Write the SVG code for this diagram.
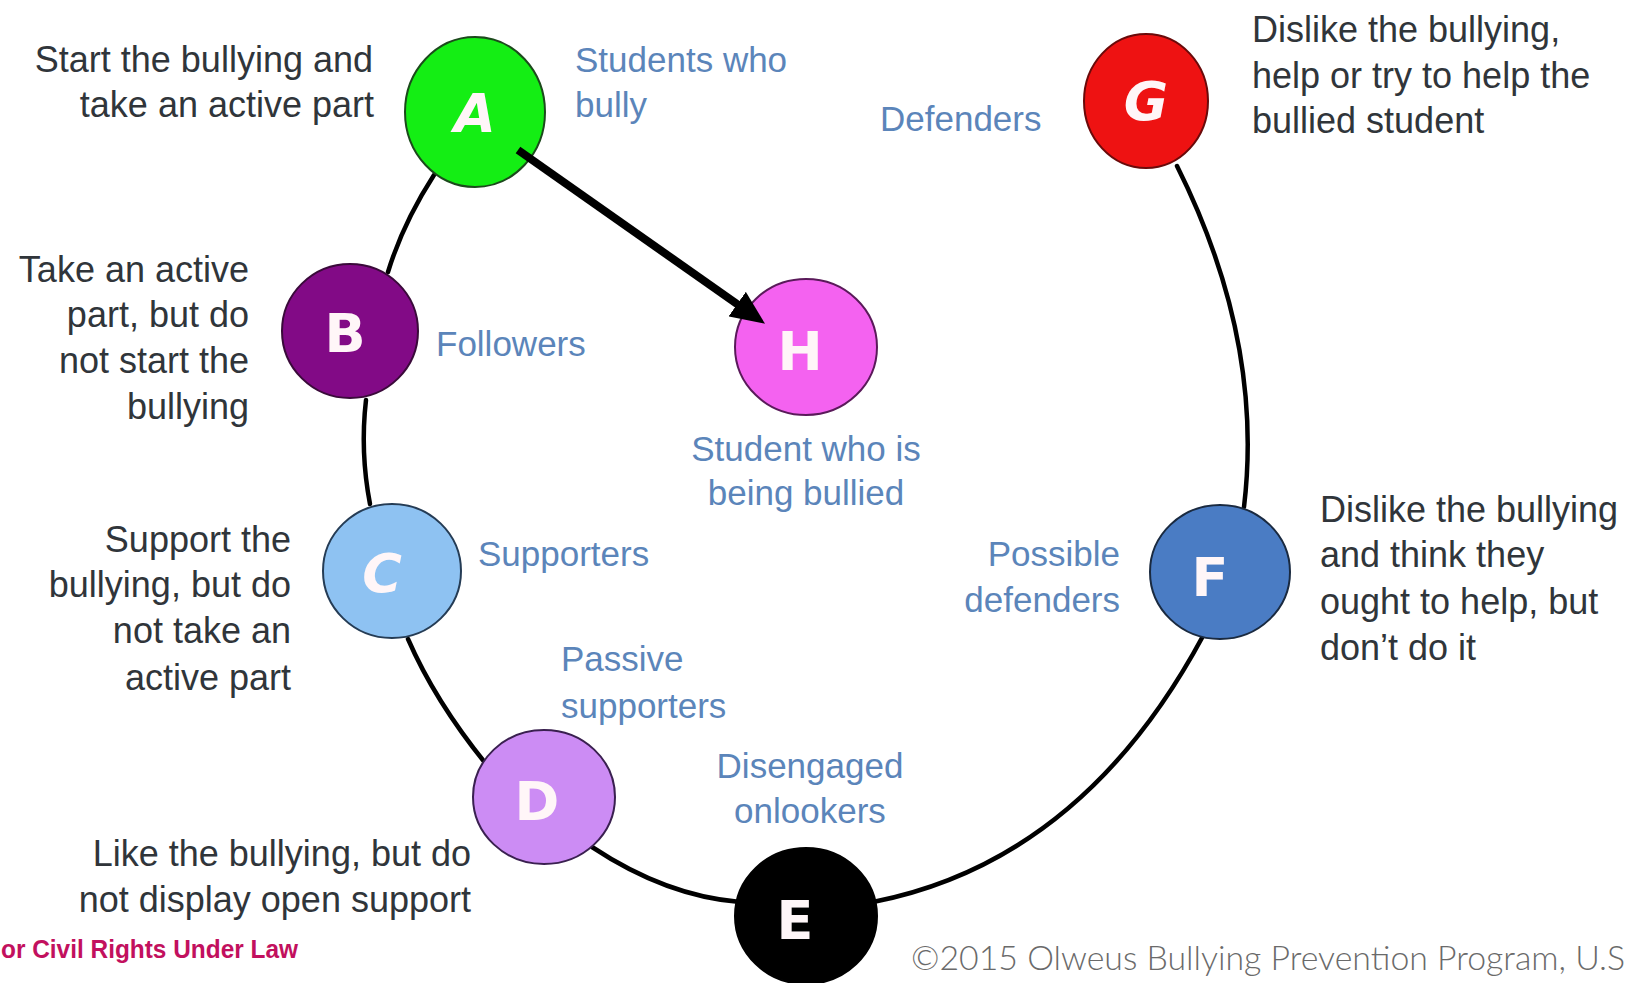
<svg xmlns="http://www.w3.org/2000/svg" width="1629" height="983" viewBox="0 0 1629 983">
<style>
.desc{font-family:"Liberation Sans",Arial,sans-serif;font-size:36px;fill:#30353a}
.lab{font-family:"Liberation Sans",Arial,sans-serif;font-size:35px;fill:#5b85ba}
.r{text-anchor:end}
.m{text-anchor:middle}
.letter{font-family:"DejaVu Sans",sans-serif;font-size:54px;font-weight:bold;fill:#fff6f8;text-anchor:middle}
.conn{fill:none;stroke:#000;stroke-width:4.5;stroke-linecap:round}
</style>
<defs>
<marker id="ah" viewBox="0 0 34 30" refX="12" refY="15" markerWidth="34" markerHeight="30" markerUnits="userSpaceOnUse" orient="auto">
<path d="M0,0 L34,15 L0,30 z" fill="#000"/>
</marker>
</defs>
<rect width="1629" height="983" fill="#ffffff"/>
<g id="connectors">
<path class="conn" d="M434,175 Q403,223 388,272"/>
<path class="conn" d="M366,400 Q360,452 370,504"/>
<path class="conn" d="M408,639 Q435,701 486,764"/>
<path class="conn" d="M592,847 Q666,896 740,902"/>
<path class="conn" d="M873,902 Q1082,861 1203,636"/>
<path class="conn" d="M1244,507 Q1264,340 1177,166"/>
</g>
<g id="node-A">
<ellipse cx="475" cy="112" rx="70" ry="75" fill="#14ee14" stroke="#1c4a1c" stroke-width="2"/>
<text class="letter" x="475" y="132" font-style="italic" font-weight="normal">A</text>
</g>
<g id="node-G">
<ellipse cx="1146" cy="101" rx="62" ry="67" fill="#ee1212" stroke="#6a0a0a" stroke-width="2"/>
<text class="letter" x="1146" y="120" font-style="italic">G</text>
</g>
<g id="node-B">
<ellipse cx="350" cy="331" rx="68" ry="67" fill="#820a86" stroke="#3a0a3a" stroke-width="2"/>
<text class="letter" x="345" y="352">B</text>
</g>
<g id="node-H">
<ellipse cx="806" cy="347" rx="71" ry="68" fill="#f462f0" stroke="#5a1a5a" stroke-width="2"/>
<text class="letter" x="800" y="370" font-weight="normal">H</text>
</g>
<g id="node-C">
<ellipse cx="392" cy="571" rx="69" ry="67" fill="#8ec2f2" stroke="#253c55" stroke-width="2"/>
<text class="letter" x="382" y="592" font-style="italic" font-weight="normal">C</text>
</g>
<g id="node-F">
<ellipse cx="1220" cy="572" rx="70" ry="67" fill="#4a7cc4" stroke="#1a2a40" stroke-width="2"/>
<text class="letter" x="1210" y="596">F</text>
</g>
<g id="node-D">
<ellipse cx="544" cy="797" rx="71" ry="67" fill="#cc8cf4" stroke="#3a2050" stroke-width="2"/>
<text class="letter" x="537" y="820" font-weight="normal">D</text>
</g>
<g id="node-E">
<ellipse cx="806" cy="916" rx="71" ry="68" fill="#000000" stroke="#000" stroke-width="2"/>
<text class="letter" x="795" y="939">E</text>
</g>
<g id="arrow">
<line x1="518" y1="150" x2="747" y2="311" stroke="#000" stroke-width="8" marker-end="url(#ah)"/>
</g>
<g id="texts">
<text class="desc r" x="373" y="72">Start the bullying and</text>
<text class="desc r" x="374" y="117">take an active part</text>
<text class="lab" x="575" y="72">Students who</text>
<text class="lab" x="575" y="117">bully</text>
<text class="lab" x="880" y="131">Defenders</text>
<text class="desc" x="1252" y="42">Dislike the bullying,</text>
<text class="desc" x="1252" y="88">help or try to help the</text>
<text class="desc" x="1252" y="133">bullied student</text>
<text class="desc r" x="249" y="282">Take an active</text>
<text class="desc r" x="249" y="327">part, but do</text>
<text class="desc r" x="249" y="373">not start the</text>
<text class="desc r" x="249" y="419">bullying</text>
<text class="lab" x="436" y="356">Followers</text>
<text class="lab m" x="806" y="461">Student who is</text>
<text class="lab m" x="806" y="505">being bullied</text>
<text class="desc r" x="291" y="552">Support the</text>
<text class="desc r" x="291" y="597">bullying, but do</text>
<text class="desc r" x="291" y="643">not take an</text>
<text class="desc r" x="291" y="690">active part</text>
<text class="lab" x="478" y="566">Supporters</text>
<text class="lab r" x="1120" y="566">Possible</text>
<text class="lab r" x="1120" y="612">defenders</text>
<text class="desc" x="1320" y="522">Dislike the bullying</text>
<text class="desc" x="1320" y="567">and think they</text>
<text class="desc" x="1320" y="614">ought to help, but</text>
<text class="desc" x="1320" y="660">don’t do it</text>
<text class="lab" x="561" y="671">Passive</text>
<text class="lab" x="561" y="718">supporters</text>
<text class="lab m" x="810" y="778">Disengaged</text>
<text class="lab m" x="810" y="823">onlookers</text>
<text class="desc r" x="471" y="866">Like the bullying, but do</text>
<text class="desc r" x="471" y="912">not display open support</text>
<text x="1" y="958" font-family="'Liberation Sans',Arial,sans-serif" font-size="25" font-weight="bold" fill="#c2105e" textLength="297" lengthAdjust="spacingAndGlyphs">or Civil Rights Under Law</text>
<text x="911" y="970" font-family="Lato,'Open Sans',sans-serif" font-size="33" font-weight="300" fill="#6a6a6a" textLength="714" lengthAdjust="spacingAndGlyphs">©2015 Olweus Bullying Prevention Program, U.S</text>
</g>
</svg>
